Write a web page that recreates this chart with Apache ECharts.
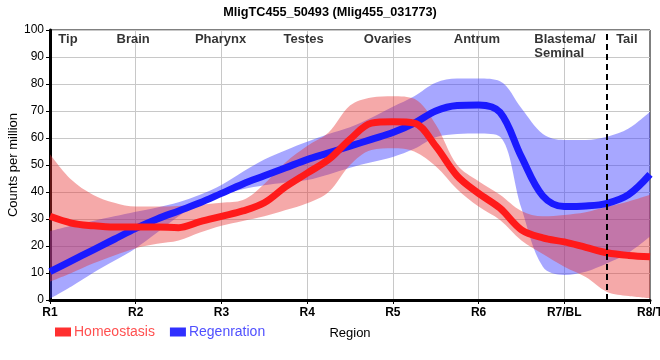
<!DOCTYPE html>
<html><head><meta charset="utf-8">
<script src="https://cdn.jsdelivr.net/npm/echarts@6/dist/echarts.min.js"></script>
<style>html,body{margin:0;padding:0;background:#fff}#c{width:660px;height:360px}</style>
</head><body><div id="c"></div>
<script>
const titleText = 'MligTC455_50493 (Mlig455_031773)';
const regionTicks = ['R1','R2','R3','R4','R5','R6','R7/BL','R8/T'];
const regionNames = ['Tip','Brain','Pharynx','Testes','Ovaries','Antrum','Blastema/\nSeminal','Tail'];
const regionNamePos = [1.21, 1.97, 2.99, 3.96, 4.94, 5.98, 6.65, 7.73];
const dividerPos = 7.5;
const xGrid = [1,1.25,1.5,1.75,2,2.25,2.5,2.75,3,3.25,3.5,3.75,4,4.25,4.5,4.75,5,5.25,5.5,5.75,6,6.25,6.5,6.75,7,7.25,7.5,7.75,8];
const homeoMean  = [31,28.5,27.5,27,27,27,26.8,29,31,33,36,42,47,52,59.5,65.5,66,65.5,57,46,39.5,34,26,23,21.5,19.5,17.5,16.5,16];
const homeoUpper = [54,44.5,39,36,34.6,34.6,34.8,35.3,36,37,43,51,57,62,72,75,75.5,74.5,65,50,44,39,33,31,31.5,32.5,34.5,36.5,39];
const homeoLower = [6.8,10,13.5,16.5,19.2,20.8,22,25,27.5,29.3,31,33.3,35.8,40,50,55.6,56.2,55,49.5,41,34.6,29.6,22,17,12.3,8.5,3,1.5,0.7];
const regenMean  = [10.5,14.5,18.5,22.5,26.5,30,33,36,39.5,43,46,49,52,54.5,57,59.5,62,65.5,70,72,72.2,69.5,53,38.5,34.6,34.8,35.8,39,46.5];
const regenUpper = [25.5,27.5,29.3,31,32.7,34.3,36.2,39,42.6,47.5,52,55.5,58.6,61.5,64,67.5,71.6,75.5,80.5,82,82,81,71,61.5,59.3,59.3,60.5,63.5,69.7];
const regenLower = [0.5,5,10,14.5,19.2,25,31,36,38.9,41,42.5,43.5,44.4,46.5,49,51,53,56,60.3,61.5,61.7,60.5,34,12.3,9.3,10.5,13.6,17.5,23.5];

const FONT = 'Liberation Sans';
const cats = xGrid.map(String);
const diff = (u, l) => u.map((v, i) => +(v - l[i]).toFixed(2));
const SM = 0.35;

function band(name, lower, upper, color, stack) {
  return [
    { name: name + '_l', type: 'line', stack: stack, data: lower, smooth: SM, symbol: 'none',
      lineStyle: { opacity: 0 }, silent: true, legendHoverLink: false },
    { name: name + '_u', type: 'line', stack: stack, data: diff(upper, lower), smooth: SM, symbol: 'none',
      lineStyle: { opacity: 0 }, areaStyle: { color: color, opacity: 1 }, silent: true }
  ];
}

const chart = echarts.init(document.getElementById('c'), null, { renderer: 'canvas' });
chart.setOption({
  animation: false,
  textStyle: { fontFamily: FONT },
  title: { text: titleText, left: 'center', top: 1,
    textStyle: { fontFamily: FONT, fontSize: 12.7, fontWeight: 'bold', color: '#000' } },
  grid: { left: 50, right: 10, top: 30, bottom: 60, show: true, borderColor: '#000', borderWidth: 1,
    containLabel: false, outerBoundsMode: 'none' },
  legend: {
    left: 50, top: 320, itemWidth: 16, itemHeight: 9, itemGap: 15, icon: 'rect',
    textStyle: { fontFamily: FONT, fontSize: 14, padding: [0, 0, 0, -2] },
    data: [
      { name: 'Homeostasis', textStyle: { color: '#ff5050' }, itemStyle: { color: '#ff3030' } },
      { name: 'Regenration', textStyle: { color: '#5050ff' }, itemStyle: { color: '#3030ff' } }
    ]
  },
  xAxis: [
    { type: 'category', data: cats, boundaryGap: false,
      name: 'Region', nameLocation: 'middle', nameGap: 27, nameMoveOverlap: false,
      nameTextStyle: { fontFamily: FONT, fontSize: 13, color: '#000' },
      axisLine: { lineStyle: { color: '#000', width: 3 } },
      axisTick: { show: true, length: 4, interval: (i) => i % 4 === 0, lineStyle: { color: '#000', width: 1 } },
      axisLabel: { interval: (i) => i % 4 === 0, margin: 7, fontFamily: FONT, fontSize: 12, fontWeight: 'bold', color: '#000',
        hideOverlap: false,
        formatter: (v) => { const n = Number(v); return Number.isInteger(n) ? regionTicks[n - 1] : ''; } },
      splitLine: { show: true, interval: (i) => i % 4 === 0 && i > 0 && i < 28, lineStyle: { color: '#c8c8c8', width: 1 } }
    },
    { type: 'value', min: 1, max: 8, show: false }
  ],
  yAxis: {
    type: 'value', min: 0, max: 100, interval: 10,
    name: 'Counts per million', nameLocation: 'middle', nameGap: 30, nameMoveOverlap: false,
    nameTextStyle: { fontFamily: FONT, fontSize: 13, color: '#000' },
    axisLine: { show: true, lineStyle: { color: '#000', width: 3 } },
    axisTick: { show: true, length: 4, lineStyle: { color: '#000', width: 1 } },
    axisLabel: { fontFamily: FONT, fontSize: 12, color: '#000', margin: 6 },
    splitLine: { lineStyle: { color: '#c8c8c8', width: 1 } }
  },
  series: [
    ...band('rb', regenLower, regenUpper, 'rgba(60,60,255,0.45)', 'regen'),
    { name: 'Regenration', type: 'line', data: regenMean, smooth: SM, symbol: 'none',
      lineStyle: { color: '#1a1aff', width: 7 }, itemStyle: { color: '#3030ff' } },
    ...band('hb', homeoLower, homeoUpper, 'rgba(230,50,50,0.42)', 'homeo'),
    { name: 'Homeostasis', type: 'line', data: homeoMean, smooth: SM, symbol: 'none',
      lineStyle: { color: '#ff1a1a', width: 7 }, itemStyle: { color: '#ff3030' } },
    { name: 'regions', type: 'scatter', xAxisIndex: 1, symbolSize: 0, silent: true,
      data: regionNamePos.map((x, i) => ({ value: [x, 99.2], name: regionNames[i],
        label: { align: i === 6 ? 'left' : 'center' } })),
      label: { show: true, position: 'inside', verticalAlign: 'top', formatter: (p) => p.name,
        fontFamily: FONT, fontSize: 13, fontWeight: 'bold', color: '#000', lineHeight: 14 },
      markLine: { silent: true, symbol: 'none', label: { show: false },
        lineStyle: { color: '#000', type: [6, 4], width: 2 },
        data: [{ xAxis: dividerPos }] }
    }
  ]
});
</script></body></html>
